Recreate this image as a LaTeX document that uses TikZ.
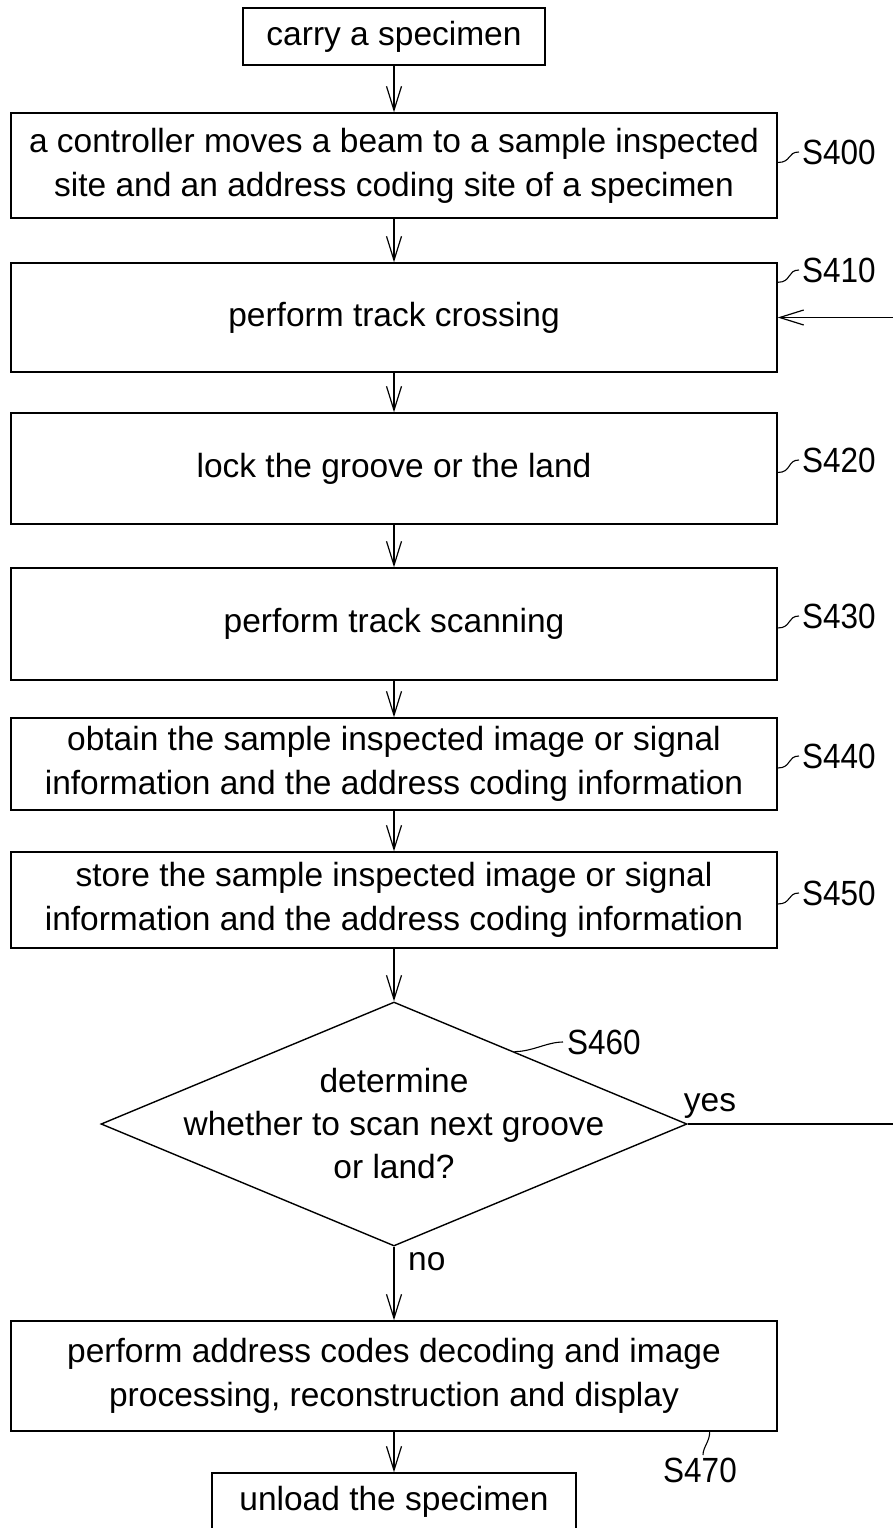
\documentclass[tikz,border=0pt]{standalone}
\usepackage{fontspec}
\setmainfont{Liberation Sans}
\newfontfamily\narrowfont[FakeStretch=0.9]{Liberation Sans}
\usetikzlibrary{arrows.meta,shapes.geometric,calc}
\begin{document}
\begin{tikzpicture}[x=1pt,y=-1pt,
  box/.style={draw, line width=1.4pt, inner sep=0pt, align=center, font=\fontsize{33.5}{44}\selectfont},
  txt/.style={inner sep=0pt, align=center, font=\fontsize{33.5}{43}\selectfont},
  flow/.style={line width=1.4pt, -{Straight Barb[length=24pt,width=15pt,line width=1.2pt]}},
  conn/.style={line width=1.4pt},
  steplbl/.style={inner sep=0pt, anchor=west, font=\narrowfont\fontsize{35}{40}\selectfont},
  word/.style={inner sep=0pt, font=\fontsize{33.5}{40}\selectfont},
  lead/.style={line width=1.1pt}]
\useasboundingbox (0,0) rectangle (893,1528);
\clip (0,0) rectangle (893,1528);

% boxes
\node[box, minimum width=302pt, minimum height=57pt] (carry) at (394,36.5) {carry a specimen};
\node[box, minimum width=766pt, minimum height=105pt] (s400) at (394,165.5) {a controller moves a beam to a sample inspected\\site and an address coding site of a specimen};
\node[box, minimum width=766pt, minimum height=109pt] (s410) at (394,317.5) {perform track crossing};
\node[box, minimum width=766pt, minimum height=111pt] (s420) at (394,468.5) {lock the groove or the land};
\node[box, minimum width=766pt, minimum height=112pt] (s430) at (394,624) {perform track scanning};
\node[box, minimum width=766pt, minimum height=92pt] (s440) at (394,764) {obtain the sample inspected image or signal\\information and the address coding information};
\node[box, minimum width=766pt, minimum height=96pt] (s450) at (394,900) {store the sample inspected image or signal\\information and the address coding information};
\node[draw, diamond, line width=1.4pt, inner sep=0pt, minimum width=586pt, minimum height=244pt] (dec) at (394,1124) {};
\node[txt] (dectext) at (dec.center) {determine\\whether to scan next groove\\or land?};
\node[box, minimum width=766pt, minimum height=110pt] (s470) at (394,1376) {perform address codes decoding and image\\processing, reconstruction and display};
\node[box, minimum width=364pt, minimum height=58pt] (unload) at (394,1502) {unload the specimen};

% flow arrows
\draw[flow] (carry) -- (s400);
\draw[flow] (s400) -- (s410);
\draw[flow] (s410) -- (s420);
\draw[flow] (s420) -- (s430);
\draw[flow] (s430) -- (s440);
\draw[flow] (s440) -- (s450);
\draw[flow] (s450) -- (dec);
\draw[flow] (dec) -- (s470);
\draw[flow] (s470) -- (unload);

% loop back (yes)
\coordinate (loopcorner) at (910,1124);
\draw[conn] (dec.east) -- (loopcorner);
\draw[flow] (loopcorner) |- (s410.east);
\node[word, anchor=south west] (yes) at ([xshift=-4pt,yshift=5pt]dec.east) {yes};
\node[word, anchor=north west] (no) at ([xshift=14pt,yshift=-6pt]dec.south) {no};

% step labels
\node[steplbl] (l400) at (802,152) {S400};
\draw[lead] ([yshift=3pt]s400.east) .. controls +(14,0) and +(-12,0) .. ([xshift=-3pt]l400.west);
\node[steplbl] (l410) at (802,270) {S410};
\draw[lead] ([yshift=-20pt]s410.north east) .. controls +(14,0) and +(-12,0) .. ([xshift=-3pt]l410.west);
\node[steplbl] (l420) at (802,460) {S420};
\draw[lead] ([yshift=-4pt]s420.east) .. controls +(14,0) and +(-12,0) .. ([xshift=-3pt]l420.west);
\node[steplbl] (l430) at (802,616) {S430};
\draw[lead] ([yshift=-4pt]s430.east) .. controls +(14,0) and +(-12,0) .. ([xshift=-3pt]l430.west);
\node[steplbl] (l440) at (802,756) {S440};
\draw[lead] ([yshift=-4pt]s440.east) .. controls +(14,0) and +(-12,0) .. ([xshift=-3pt]l440.west);
\node[steplbl] (l450) at (802,893) {S450};
\draw[lead] ([yshift=-4pt]s450.east) .. controls +(14,0) and +(-12,0) .. ([xshift=-3pt]l450.west);
\node[steplbl] (l460) at (567,1042) {S460};
\draw[lead] ($(dec.north)!0.41!(dec.east)$) .. controls +(18,0) and +(-16,0) .. ([xshift=-4pt]l460.west);
\node[steplbl, anchor=north] (l470) at (700,1458) {S470};
\draw[lead] ([xshift=-68pt]s470.south east) .. controls +(0,10) and +(0,-8) .. ([xshift=3pt,yshift=3pt]l470.north);
\end{tikzpicture}
\end{document}
